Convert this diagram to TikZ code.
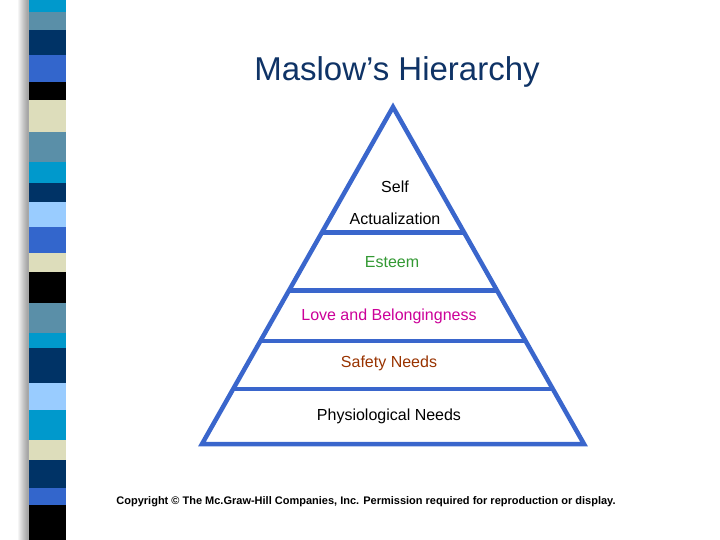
\documentclass[tikz,border=0pt]{standalone}
\usepackage{fontspec}
\setmainfont{Liberation Sans}
\usetikzlibrary{calc}
\definecolor{cyanb}{HTML}{0099CC}
\definecolor{steel}{HTML}{5A8FA8}
\definecolor{navy}{HTML}{003366}
\definecolor{royal}{HTML}{3366CC}
\definecolor{beige}{HTML}{DDDDBB}
\definecolor{lblue}{HTML}{99CCFF}
\definecolor{pyr}{HTML}{3A66CC}
\definecolor{titlec}{HTML}{0F3366}
\begin{document}
\begin{tikzpicture}[x=1pt,y=-1pt,
  lbl/.style={font=\fontsize{16}{18}\selectfont,inner sep=0pt},
  tier/.style={draw=pyr,line width=4.5pt}]
\useasboundingbox (0,0) rectangle (720,540);
\fill[white] (0,0) rectangle (720,540);
% shadow
\foreach \i in {0,...,9}{\fill[black,opacity=0.04] (18+\i,0) rectangle (66,540);}
% stripe
\foreach \a/\b/\c in {0/12/cyanb,12/30/steel,30/55/navy,55/82/royal,82/100/black,100/132/beige,132/162/steel,162/183/cyanb,183/202/navy,202/227/lblue,227/253/royal,253/272/beige,272/303/black,303/333/steel,333/348/cyanb,348/383/navy,383/410/lblue,410/440/cyanb,440/460/beige,460/488/navy,488/505/royal,505/540/black}
  {\fill[\c] (29,\a) rectangle (66,\b);}
\node[text=titlec,font=\fontsize{33}{36}\selectfont] (title) at (397,72) {Maslow’s Hierarchy};
\coordinate (apex) at (393,107);
\coordinate (bl) at (202,444);
\coordinate (br) at (584,444);
\draw[tier,line join=miter] (apex) -- (br) -- (bl) -- cycle;
\foreach \t in {0.373,0.544,0.695,0.837}
  \draw[tier] ($(apex)!\t!(bl)$) -- ($(apex)!\t!(br)$);
\node[lbl] (self) at (395,187) {Self};
\node[lbl] (act) at (395,219) {Actualization};
\node[lbl,text={rgb,255:red,51;green,153;blue,51}] (est) at (392,262) {Esteem};
\node[lbl,text={rgb,255:red,204;green,0;blue,153}] (love) at (389,316) {Love and Belongingness};
\node[lbl,text={rgb,255:red,153;green,51;blue,0}] (safe) at (389,363) {Safety Needs};
\node[lbl] (phys) at (389,416) {Physiological Needs};
\node[font=\bfseries\fontsize{11}{13}\selectfont,inner sep=0pt] (copy) at (366,502) {Copyright © The Mc.Graw-Hill Companies, Inc. Permission required for reproduction or display.};
\end{tikzpicture}
\end{document}
